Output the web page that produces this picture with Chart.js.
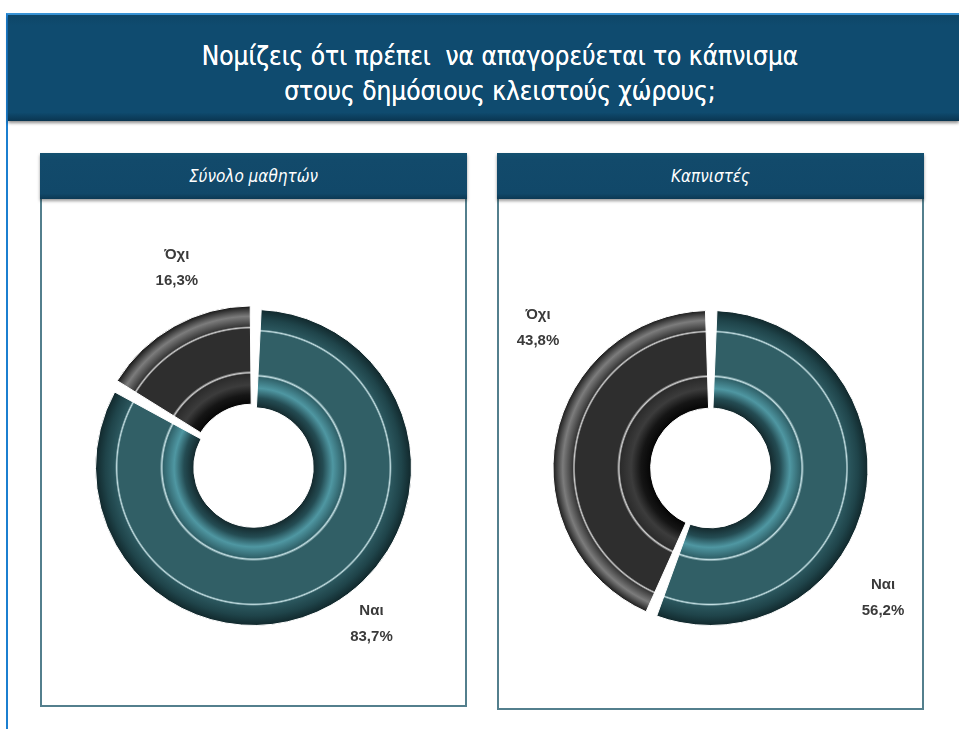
<!DOCTYPE html>
<html lang="el">
<head>
<meta charset="utf-8">
<title>Κάπνισμα στους δημόσιους κλειστούς χώρους</title>
<script src="https://cdn.jsdelivr.net/npm/chart.js@4.4.1/dist/chart.umd.min.js"></script>
<style>
    html, body {
        margin: 0;
        padding: 0;
        background: #ffffff;
    }
    body {
        width: 959px;
        height: 729px;
        position: relative;
        overflow: hidden;
        font-family: "DejaVu Sans Condensed", "Liberation Sans Narrow", sans-serif;
    }
    .frame {
        position: absolute;
        left: 6px;
        top: 13px;
        width: 960px;
        height: 720px;
        border-left: 2px solid #1b7fd0;
        border-top: 2px solid #3a95d8;
    }
    .main-header {
        position: absolute;
        left: 8px;
        top: 15px;
        width: 951px;
        height: 106px;
        background: linear-gradient(#0e4667, #0f4b6f 10%, #0f4b6f 92%, #0a3550);
        box-shadow: 0 2px 3px rgba(0, 0, 0, 0.45);
        color: #ffffff;
        text-align: center;
    }
    .main-header h1 {
        margin: 0;
        position: absolute;
        left: 0;
        width: 984px;
        top: 24px;
        font-size: 26px;
        font-weight: normal;
        line-height: 35px;
        text-shadow: 0 0 0.6px #ffffff;
    }
    .panel {
        position: absolute;
        border: 2px solid #537f8d;
        background: #ffffff;
    }
    .panel-header {
        position: absolute;
        left: -2px;
        top: -2px;
        right: -2px;
        height: 46px;
        background: linear-gradient(#13506f, #124a6b 15%, #114869 88%, #0c3954);
        box-shadow: 0 2px 3px rgba(0, 0, 0, 0.4);
        color: #ffffff;
        font-style: italic;
        font-size: 17px;
        line-height: 46px;
        text-align: center;
    }
    .panel canvas {
        position: absolute;
        left: 0;
        top: 46px;
    }
</style>
</head>
<body>
<div class="frame"></div>
<div class="main-header">
    <h1>Νομίζεις ότι πρέπει&nbsp; να απαγορεύεται το κάπνισμα<br>στους δημόσιους κλειστούς χώρους;</h1>
</div>

<div class="panel" id="panelAll" style="left:40px; top:153px; width:423px; height:550px;">
    <div class="panel-header">Σύνολο μαθητών</div>
    <canvas id="chartAll" width="423" height="503"></canvas>
</div>

<div class="panel" id="panelSmokers" style="left:497px; top:153px; width:423px; height:553px;">
    <div class="panel-header">Καπνιστές</div>
    <canvas id="chartSmokers" width="423" height="506"></canvas>
</div>

<script>
// data
const categories = ["Ναι", "Όχι"];
const allStudents = [83.7, 16.3];
const smokers = [56.2, 43.8];

const tealStops = [
    [0, "#14292d"], [0.1, "#244c53"], [0.2, "#4f97a2"], [0.31, "#30626a"],
    [0.325, "#c4dfe3"], [0.345, "#315f66"], [0.77, "#315f66"], [0.785, "#c4dfe3"],
    [0.8, "#2b575e"], [0.9, "#1f444a"], [1, "#11282c"]
];
const darkStops = [
    [0, "#050505"], [0.1, "#151515"], [0.2, "#3c3c3c"], [0.31, "#2b2b2b"],
    [0.325, "#cfcfcf"], [0.345, "#2e2e2e"], [0.77, "#2e2e2e"], [0.785, "#cfcfcf"],
    [0.8, "#383838"], [0.9, "#7c7c7c"], [1, "#1a1a1a"]
];

function ringFill(context) {
    const chart = context.chart;
    const stops = context.dataIndex === 0 ? tealStops : darkStops;
    const area = chart.chartArea;
    const ctrl = chart.getDatasetMeta(context.datasetIndex).controller;
    if (!area || !ctrl || !ctrl.outerRadius) {
        return stops[4][1];
    }
    const extra = (context.dataset.spacing || 0) / 2;
    const cx = (area.left + area.right) / 2;
    const cy = (area.top + area.bottom) / 2;
    const inner = ctrl.innerRadius + extra;
    const outer = ctrl.outerRadius + extra;
    const g = chart.ctx.createRadialGradient(cx, cy, inner, cx, cy, outer);
    stops.forEach(s => g.addColorStop(s[0], s[1]));
    return g;
}

const outsideLabels = {
    id: "outsideLabels",
    afterDatasetsDraw(chart, args, opts) {
        const ctx = chart.ctx;
        const meta = chart.getDatasetMeta(0);
        const values = chart.data.datasets[0].data;
        ctx.save();
        ctx.font = "bold 15px 'Liberation Sans', sans-serif";
        ctx.fillStyle = "#3a3a3a";
        ctx.textAlign = "center";
        ctx.textBaseline = "middle";
        meta.data.forEach((arc, i) => {
            const a = opts.angles[i] * Math.PI / 180;
            const x = arc.x + Math.sin(a) * opts.dist[i];
            const y = arc.y - Math.cos(a) * opts.dist[i];
            const pct = values[i].toFixed(1).replace(".", ",") + "%";
            ctx.fillText(chart.data.labels[i], x, y - 13);
            ctx.fillText(pct, x, y + 13);
        });
        ctx.restore();
    }
};

function makeDonut(canvasId, values, opts) {
    new Chart(document.getElementById(canvasId), {
        type: "doughnut",
        data: {
            labels: categories,
            datasets: [{
                data: values,
                backgroundColor: ringFill,
                borderColor: "#ffffff",
                borderWidth: 1,
                spacing: opts.spacing,
                offset: opts.offset
            }]
        },
        options: {
            responsive: false,
            animation: false,
            radius: opts.radius,
            cutout: "37%",
            layout: {
                padding: { top: opts.padTop }
            },
            plugins: {
                legend: { display: false },
                tooltip: { enabled: false },
                outsideLabels: {
                    angles: opts.labelAngles,
                    dist: opts.labelDist
                }
            }
        },
        plugins: [outsideLabels]
    });
}

makeDonut("chartAll", allStudents, {
    radius: 156,
    spacing: 4,
    offset: [0, 14],
    padTop: 30,
    labelAngles: [143, 339],
    labelDist: [196, 214]
});

makeDonut("chartSmokers", smokers, {
    radius: 155,
    spacing: 5,
    offset: [0, 0],
    padTop: 28,
    labelAngles: [127, 309],
    labelDist: [216, 222]
});
</script>
</body>
</html>
